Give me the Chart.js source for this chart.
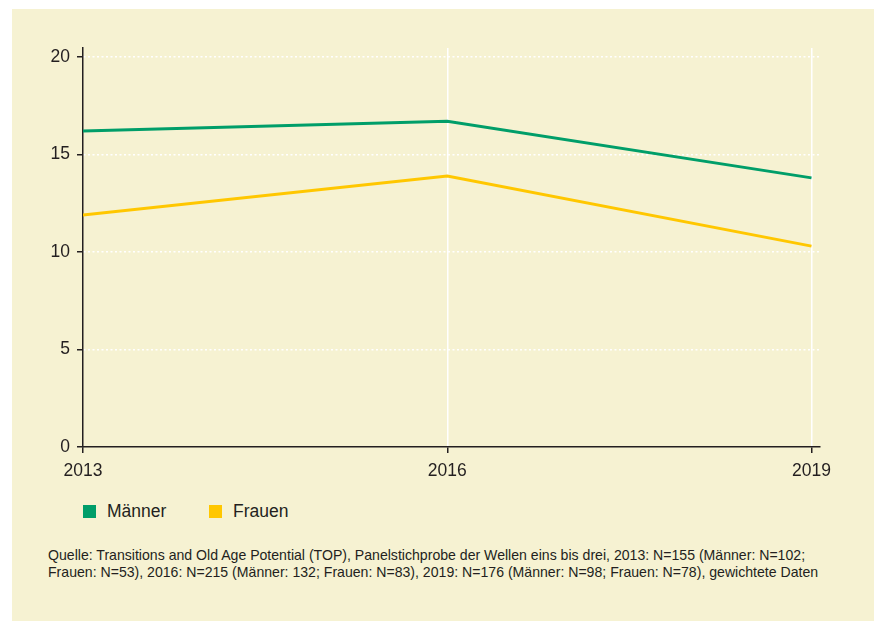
<!DOCTYPE html>
<html lang="de">
<head>
<meta charset="UTF-8">
<title>Männer und Frauen 2013–2019</title>
<script src="https://cdn.jsdelivr.net/npm/chart.js"></script>
<style>
  * { margin: 0; padding: 0; box-sizing: border-box; }
  body { width: 874px; height: 621px; background: #fff; font-family: "Liberation Sans", Arial, sans-serif; color: #231f20; position: relative; overflow: hidden; }
  .panel { position: absolute; left: 12px; top: 9px; right: 0; bottom: 0; background: #f6f2d2; }
  .chart-box { position: absolute; left: 0; top: 0; width: 874px; height: 485px; }
  .legend { position: absolute; left: 83px; top: 500px; display: flex; font-size: 17.5px; line-height: 23px; }
  .legend-item { display: flex; align-items: center; }
  .legend-item:first-child { width: 126px; }
  .legend-item i { display: inline-block; width: 13px; height: 13px; margin-right: 11px; }
  .source { position: absolute; left: 48px; top: 547px; font-size: 14.1px; line-height: 17px; }
</style>
</head>
<body>
<div class="panel"></div>
<div class="chart-box"><canvas id="chart" width="874" height="485"></canvas></div>
<div class="legend" id="legend"></div>
<div class="source">Quelle: Transitions and Old Age Potential (TOP), Panelstichprobe der Wellen eins bis drei, 2013: N=155 (Männer: N=102;<br>Frauen: N=53), 2016: N=215 (Männer: 132; Frauen: N=83), 2019: N=176 (Männer: N=98; Frauen: N=78), gewichtete Daten</div>

<script>
  const years = [2013, 2016, 2019];
  const maenner = [16.2, 16.7, 13.8];
  const frauen = [11.9, 13.9, 10.3];
  const yTicks = [0, 5, 10, 15, 20];

  const seriesNames = ['Männer', 'Frauen'];
  const seriesColors = ['#009e69', '#ffc700'];
  const ink = '#231f20';

  Chart.defaults.font.family = '"Liberation Sans", Arial, sans-serif';
  Chart.defaults.color = ink;

  const toPoints = vals => vals.map((v, i) => ({ x: years[i], y: v }));

  new Chart(document.getElementById('chart'), {
    type: 'line',
    data: {
      datasets: [maenner, frauen].map((vals, i) => ({
        label: seriesNames[i],
        data: toPoints(vals),
        borderColor: seriesColors[i],
        borderWidth: 3,
        pointRadius: 0,
        tension: 0
      }))
    },
    options: {
      responsive: false,
      animation: false,
      layout: { padding: { left: 0, right: 54, top: 48, bottom: 0 } },
      plugins: { legend: { display: false }, tooltip: { enabled: false } },
      scales: {
        x: {
          type: 'linear',
          min: 2013,
          max: 2019.07,
          afterBuildTicks: s => { s.ticks = years.map(v => ({ value: v })); },
          afterFit: s => { s.height = 38; },
          ticks: { padding: 8, font: { size: 17.5 }, callback: v => String(v) },
          grid: {
            color: c => (c.tick && c.tick.value === 2013 ? 'rgba(0,0,0,0)' : '#ffffff'),
            lineWidth: 1.5,
            tickColor: ink,
            tickLength: 6
          },
          border: { color: ink, width: 1.5 }
        },
        y: {
          min: 0,
          max: 20.46,
          afterBuildTicks: s => { s.ticks = yTicks.map(v => ({ value: v })); },
          afterFit: s => { s.width = 83; },
          ticks: { padding: 7, font: { size: 17.5 } },
          grid: {
            color: c => (c.tick && c.tick.value === 0 ? 'rgba(0,0,0,0)' : '#ffffff'),
            lineWidth: 1.5,
            tickColor: ink,
            tickLength: 6,
            tickBorderDash: []
          },
          border: { color: ink, width: 1.5, dash: [2, 2.5] }
        }
      }
    }
  });

  // legend as plain text next to coloured squares
  const legend = document.getElementById('legend');
  seriesNames.forEach((name, i) => {
    const item = document.createElement('span');
    item.className = 'legend-item';
    item.innerHTML = `<i style="background:${seriesColors[i]}"></i>${name}`;
    legend.appendChild(item);
  });
</script>
</body>
</html>
